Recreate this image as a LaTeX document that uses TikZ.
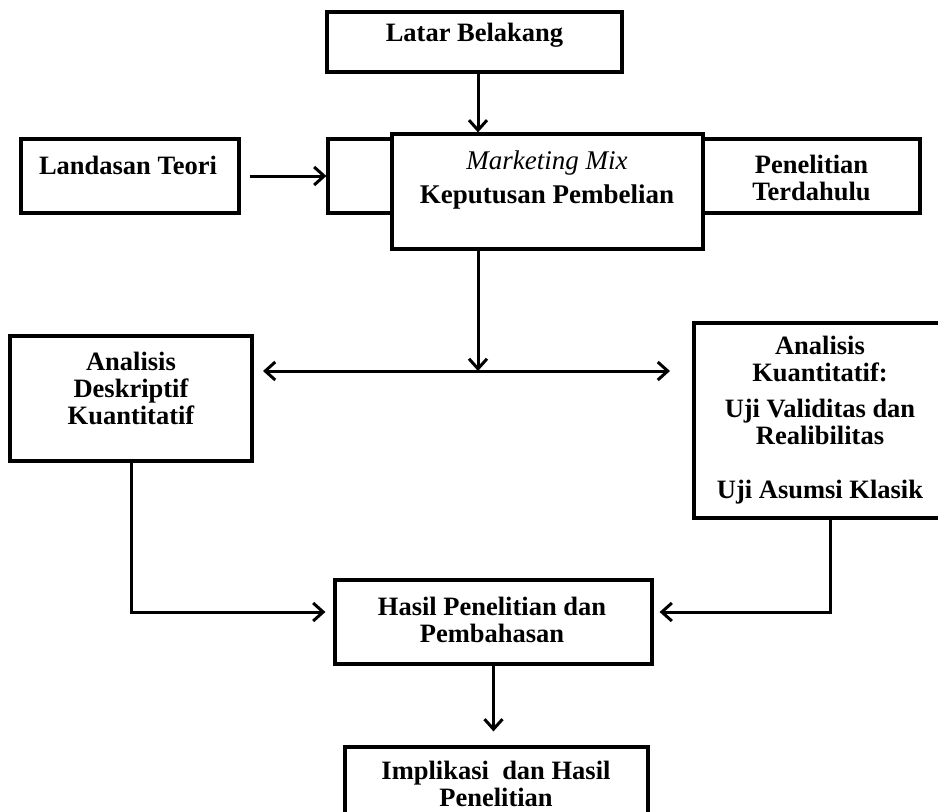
\documentclass[tikz,border=0pt]{standalone}
\usepackage{fontspec}
\setmainfont{Liberation Serif}
\usetikzlibrary{arrows.meta}

\tikzset{
  kotak/.style={draw=black, line width=3.2pt, fill=white, inner sep=0pt},
  teks/.style={align=center, font=\fontsize{26.5}{27}\selectfont\bfseries, inner sep=0pt},
  panah/.style={line width=3pt, >={Straight Barb[length=10pt,width=18pt]}, ->},
}

\begin{document}
\begin{tikzpicture}[x=1pt,y=-1pt]
  \useasboundingbox (0,0) rectangle (938,812);
  % kotak atas
  \node[kotak, minimum width=295pt, minimum height=60pt] (latar) at (474.5,42) {};
  \node[teks] (latarTxt) at (474.5,35) {Latar Belakang};
  \node[kotak, minimum width=218pt, minimum height=74pt] (landasan) at (130,176) {};
  \node[teks] (landasanTxt) at (128,165) {Landasan Teori};
  \node[kotak, minimum width=122pt, minimum height=74pt] (kosong) at (389,176) {};
  \node[kotak, minimum width=217pt, minimum height=74pt] (penelitian) at (811.5,176) {};
  \node[teks] (penelitianTxt) at (811.5,178) {Penelitian\\Terdahulu};
  \node[kotak, minimum width=311pt, minimum height=115pt] (mm) at (547.5,191.5) {};
  \node[teks, font=\fontsize{27}{27}\selectfont\bfseries] (mmTxt) at (547,180)
       {\textmd{\textit{Marketing Mix}}\\[7pt]Keputusan Pembelian};
  % kotak analisis
  \node[kotak, minimum width=242pt, minimum height=125pt] (deskriptif) at (131,398.5) {};
  \node[teks] (deskriptifTxt) at (131,388) {Analisis\\Deskriptif\\Kuantitatif};
  \node[kotak, minimum width=251pt, minimum height=195pt] (kuantitatif) at (819.5,420.5) {};
  \node[teks] (kuantitatifTxt) at (820,420)
       {Analisis\\Kuantitatif:\\[9pt]Uji Validitas dan\\Realibilitas\\[27pt]Uji Asumsi Klasik};
  % kotak bawah
  \node[kotak, minimum width=317pt, minimum height=84pt] (hasil) at (493.5,622) {};
  \node[teks] (hasilTxt) at (492,620) {Hasil Penelitian dan\\Pembahasan};
  \node[kotak, minimum width=303pt, minimum height=83pt] (implikasi) at (496.5,788.5) {};
  \node[teks] (implikasiTxt) at (496,784) {Implikasi\ \ dan Hasil\\Penelitian};

  \coordinate (cabang) at (478,371);
  \coordinate (kiri) at (263,371);
  \coordinate (kanan) at (670,371);

  % panah
  \draw[panah] (latar.south -| cabang) -- (mm.north -| cabang);
  \draw[panah, shorten <=9pt] (landasan.east) -- (kosong.west);
  \draw[panah] (mm.south -| cabang) -- (cabang);
  \draw[panah, <->] (kiri) -- (kanan);
  \draw[panah, shorten >=8pt] (deskriptif.south) |- ([yshift=10pt]hasil.west);
  \draw[panah, shorten >=6pt] ([xshift=10.5pt]kuantitatif.south) |- ([yshift=10pt]hasil.east);
  \draw[panah, shorten >=14pt] (hasil.south) -- (hasil.south |- implikasi.north);
\end{tikzpicture}
\end{document}
